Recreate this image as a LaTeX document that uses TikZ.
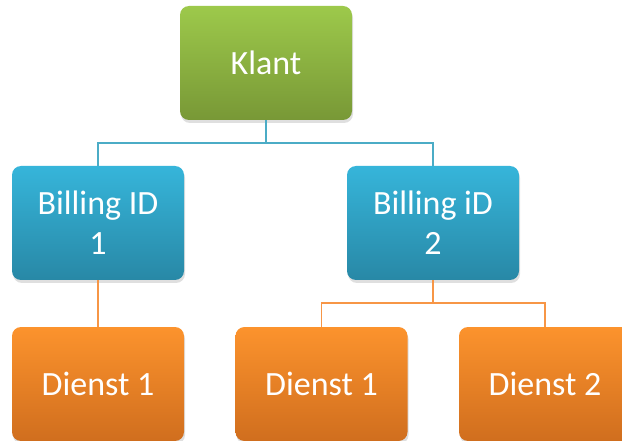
\documentclass[tikz,border=0pt]{standalone}
\usepackage{fontspec}
\setmainfont{Carlito}
\usetikzlibrary{shadows}
\definecolor{gtop}{HTML}{9DC94B}
\definecolor{gbot}{HTML}{789836}
\definecolor{btop}{HTML}{36B5DA}
\definecolor{bbot}{HTML}{2888A6}
\definecolor{otop}{HTML}{FC932D}
\definecolor{obot}{HTML}{D06E1E}
\definecolor{bline}{HTML}{4BACC6}
\definecolor{oline}{HTML}{F79646}
\tikzset{
  box/.style={rectangle, rounded corners=9pt, minimum width=172pt, minimum height=114pt,
    text=white, align=center, font=\fontsize{34}{40}\selectfont,
    drop shadow={opacity=0.25, shadow xshift=1pt, shadow yshift=-3pt}},
  greenbox/.style={box, top color=gtop, bottom color=gbot},
  bluebox/.style={box, top color=btop, bottom color=bbot},
  orangebox/.style={box, top color=otop, bottom color=obot},
  bconn/.style={draw=bline, line width=1.8pt},
  oconn/.style={draw=oline, line width=1.8pt},
}
\begin{document}
\begin{tikzpicture}[x=1pt,y=-1pt]
\clip (0,0) rectangle (622,441);
\fill[white] (0,0) rectangle (622,441);
\node[greenbox] (k) at (266,63) {Klant};
\node[bluebox] (b1) at (98,223) {Billing ID\\1};
\node[bluebox] (b2) at (433,223) {Billing iD\\2};
\node[orangebox] (d1) at (98,384) {Dienst 1};
\node[orangebox] (d2) at (321.5,384) {Dienst 1};
\node[orangebox] (d3) at (545,384) {Dienst 2};
\draw[bconn] (k.south) -- ++(0,23) -| (b1.north);
\draw[bconn] (k.south) -- ++(0,23) -| (b2.north);
\draw[oconn] (b1.south) -- (d1.north);
\draw[oconn] (b2.south) -- ++(0,23) -| (d2.north);
\draw[oconn] (b2.south) -- ++(0,23) -| (d3.north);
\end{tikzpicture}
\end{document}
